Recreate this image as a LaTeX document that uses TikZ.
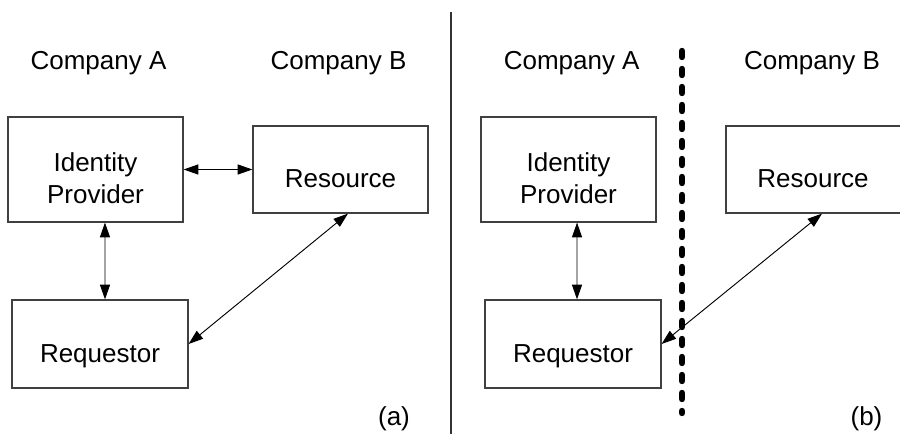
\documentclass[tikz,border=0pt]{standalone}
\usepackage{fontspec}
\setmainfont{Liberation Sans}
\usetikzlibrary{arrows.meta}
\tikzset{>={Triangle[length=11pt,width=7.5pt]}}
\tikzset{
    box/.style={draw=black!75, line width=0.9pt, minimum width=131.25pt},
    txt/.style={anchor=base, align=center, inner sep=0pt, font=\fontsize{19.5}{23.6}\selectfont},
    link/.style={<->, line width=0.7pt},
}

\begin{document}
\begin{tikzpicture}[x=0.75pt, y=-0.75pt]
            \useasboundingbox (0, 0) rectangle (900, 434);
            % (a)
            \node[txt] (compAa) at (98.5, 70) {Company A};
            \node[txt] (compBa) at (338.5, 70) {Company B};
            \node[box, minimum height=78.75pt] (idpA) at (95.5, 169.5) {};
            \node[box, minimum height=65.25pt] (resA) at (340.5, 169.5) {};
            \node[box, minimum height=66pt, minimum width=132pt] (reqA) at (100, 344) {};
            \node[txt] (idpAtxt) at (95.5, 203.3) {Identity\\Provider};
            \node[txt] (resAtxt) at (340.5, 187.3) {Resource};
            \node[txt] (reqAtxt) at (100, 363) {Requestor};
            \draw[link] (idpA) -- (resA);
            \draw[link] ([xshift=7.1pt]idpA.south) -- ([xshift=3.75pt]reqA.north);
            \draw[link] ([xshift=5.6pt]resA.south) -- (reqA.east);
            \node[txt] (capA) at (394, 426) {(a)};
            % divider
            \draw[black!80, line width=0.8pt] (451, 12) coordinate (topsep) -- (451, 436) coordinate (botsep);
            % (b)
            \node[txt] (compAb) at (571.7, 70) {Company A};
            \node[txt] (compBb) at (812, 70) {Company B};
            \node[box, minimum height=78.75pt] (idpB) at (568.5, 169.5) {};
            \node[box, minimum height=65.25pt] (resB) at (813.5, 169.5) {};
            \node[box, minimum height=66pt, minimum width=132pt] (reqB) at (573, 344) {};
            \node[txt] (idpBtxt) at (568.5, 203.3) {Identity\\Provider};
            \node[txt] (resBtxt) at (813, 187.5) {Resource};
            \node[txt] (reqBtxt) at (573, 362.5) {Requestor};
            \draw[link] ([xshift=6.4pt]idpB.south) -- ([xshift=3pt]reqB.north);
            \draw[link] ([xshift=6.4pt]resB.south) -- (reqB.east);
            \draw[line width=4.8pt, line cap=round, dash pattern=on 4.5pt off 9pt] (682, 51) coordinate (wallTop) -- (682, 413) coordinate (wallBot);
            \node[txt] (capB) at (866.5, 426) {(b)};
        \end{tikzpicture}
\end{document}
